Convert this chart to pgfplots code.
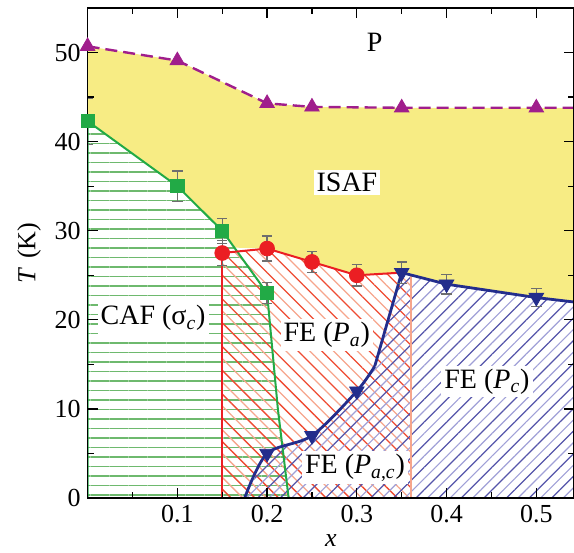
\documentclass[border=0pt]{standalone}
\usepackage{fontspec}
\setmainfont{Liberation Serif}
\usepackage{pgfplots}
\pgfplotsset{compat=1.18}
\usetikzlibrary{patterns,patterns.meta}

\definecolor{isaf}{RGB}{247,236,132}
\definecolor{ppurple}{RGB}{160,30,140}
\definecolor{cgreen}{RGB}{34,170,70}
\definecolor{hgreen}{RGB}{110,185,110}
\definecolor{cred}{RGB}{235,30,35}
\definecolor{hred}{RGB}{238,75,50}
\definecolor{hsalmon}{RGB}{246,165,140}
\definecolor{cblue}{RGB}{35,45,140}
\definecolor{hblue}{RGB}{85,85,170}
\definecolor{hlblue}{RGB}{160,160,215}
\definecolor{ebar}{RGB}{110,110,110}

\begin{document}
\begin{tikzpicture}
\begin{axis}[
  name=ax,
  scale only axis, width=243.2pt, height=245pt,
  xmin=0, xmax=0.542, ymin=0, ymax=55,
  xtick={0.1,0.2,0.3,0.4,0.5},
  minor xtick={0.05,0.15,0.25,0.35,0.45},
  ytick={0,10,20,30,40,50},
  minor ytick={5,15,25,35,45},
  tick align=inside, major tick length=5pt, minor tick length=3pt,
  tick style={black, line width=0.6pt},
  axis line style={line width=0.8pt},
  ticklabel style={font=\rmfamily\fontsize{13}{15}\selectfont},
  /pgf/number format/assume math mode=true,
  xticklabel style={/pgf/number format/fixed, /pgf/number format/precision=1},
  xlabel={\textit{x}},
  ylabel={\textit{T}\,\,(K)},
  label style={font=\rmfamily\fontsize{13}{15}\selectfont},
  xlabel style={at={(axis description cs:0.5,-0.086)}, anchor=center},
  ylabel style={at={(axis description cs:-0.12,0.5)}, anchor=center},
  axis on top,
]
% ISAF region
\addplot[fill=isaf, draw=none, forget plot] coordinates {
  (0,50.7) (0.1,49.1) (0.2,44.3) (0.25,43.9) (0.35,43.8) (0.5,43.8) (0.542,43.8)
  (0.542,22) (0.5,22.5) (0.4,24) (0.35,25.3) (0.3,25) (0.25,26.5) (0.2,28)
  (0.165,28.1) (0.15,30) (0.1,35) (0,42.3)} -- cycle;
% CAF region
\addplot[pattern={Lines[angle=0, distance=4.75pt, line width=0.55pt]}, pattern color=hgreen, draw=none, forget plot] coordinates {
  (0,0) (0,42.3) (0.1,35) (0.15,30) (0.2,23) (0.212,10) (0.224,0)} -- cycle;
% FE (Pa) region
\addplot[pattern={Lines[angle=-45, distance=8.4pt, line width=0.65pt]}, pattern color=hred, draw=none, forget plot] coordinates {
  (0.15,0) (0.15,27.5) (0.2,28) (0.25,26.5) (0.3,25) (0.35,25.3) (0.36,25.1) (0.36,0)} -- cycle;
\addplot[pattern={Lines[angle=-45, distance=8.4pt, line width=0.65pt, yshift=5.9pt]}, pattern color=hsalmon, draw=none, forget plot] coordinates {
  (0.15,0) (0.15,27.5) (0.2,28) (0.25,26.5) (0.3,25) (0.35,25.3) (0.36,25.1) (0.36,0)} -- cycle;
% FE (Pc) region
\addplot[pattern={Lines[angle=45, distance=8pt, line width=0.6pt]}, pattern color=hblue, draw=none, forget plot] coordinates {
  (0.175,0) (0.2,5) (0.25,7) (0.3,12) (0.32,14.8) (0.35,25.3) (0.4,24) (0.5,22.5) (0.542,22) (0.542,0)} -- cycle;
\addplot[pattern={Lines[angle=45, distance=8pt, line width=0.6pt, yshift=5.6pt]}, pattern color=hlblue, draw=none, forget plot] coordinates {
  (0.175,0) (0.2,5) (0.25,7) (0.3,12) (0.32,14.8) (0.35,25.3) (0.4,24) (0.5,22.5) (0.542,22) (0.542,0)} -- cycle;

% boundaries
\addplot[cred, line width=0.8pt] coordinates {(0.15,0) (0.15,27.5)};
\addplot[hsalmon, line width=1pt] coordinates {(0.36,0) (0.36,25.1)};
\addplot[cgreen, line width=1pt] coordinates {
  (0,0) (0,42.3) (0.1,35) (0.15,30) (0.2,23) (0.212,10) (0.224,0)};
\addplot[cred, line width=1pt] coordinates {
  (0.15,27.5) (0.2,28) (0.25,26.5) (0.3,25) (0.35,25.3)};
\addplot[cblue, line width=1.4pt, smooth, tension=0.5] coordinates {
  (0.175,0) (0.2,5) (0.25,7) (0.3,12) (0.32,14.8)};
\addplot[cblue, line width=1.4pt] coordinates {
  (0.32,14.8) (0.35,25.3) (0.4,24) (0.5,22.5) (0.542,22)};
\addplot[ppurple, line width=1.2pt, dash pattern=on 6pt off 3pt] coordinates {
  (0,50.7) (0.1,49.1) (0.2,44.3) (0.25,43.9) (0.35,43.8) (0.5,43.8) (0.542,43.8)};

% error bars
\addplot[draw=none, mark=none, forget plot,
  error bars/.cd, y dir=both, y explicit,
  error bar style={draw=ebar, line width=0.6pt},
  error mark options={draw=ebar, rotate=90, mark size=2.6pt, line width=0.7pt}]
  coordinates {
  (0,42.3) +- (0,2.6)
  (0.1,35) +- (0,1.7)
  (0.15,30) +- (0,1.4)
  (0.2,23) +- (0,1.2)
  (0.15,27.5) +- (0,1.4)
  (0.2,28) +- (0,1.4)
  (0.25,26.5) +- (0,1.2)
  (0.3,25) +- (0,1.2)
  (0.35,25.3) +- (0,1.2)
  (0.4,24) +- (0,1.1)
  (0.5,22.5) +- (0,1.0)
};

% markers
\addplot[only marks, mark=square*, mark size=3.3pt, cgreen] coordinates {
  (0,42.3) (0.1,35) (0.15,30) (0.2,23)};
\addplot[only marks, mark=*, mark size=3.7pt, cred] coordinates {
  (0.15,27.5) (0.2,28) (0.25,26.5) (0.3,25)};
\addplot[only marks, mark=triangle*, mark size=4.2pt, cblue,
  every mark/.append style={rotate=180}] coordinates {
  (0.2,5) (0.25,7) (0.3,12) (0.35,25.3) (0.4,24) (0.5,22.5)};
\addplot[only marks, mark=triangle*, mark size=4.2pt, ppurple] coordinates {
  (0,50.7) (0.1,49.1) (0.2,44.3) (0.25,43.9) (0.35,43.8) (0.5,43.8)};

% labels
\begin{scope}[every node/.style={font=\rmfamily\fontsize{14}{16}\selectfont, inner sep=1.5pt}]
\node at (axis cs:0.32,51.1) {P};
\node[fill=white] at (axis cs:0.289,35.4) {ISAF};
\node[fill=white] at (axis cs:0.073,20.2) {CAF (σ\textsubscript{\textit{c}})};
\node[fill=white] at (axis cs:0.2665,18.3) {FE (\textit{P}\textsubscript{\textit{a}})};
\node[fill=white] at (axis cs:0.445,13.1) {FE (\textit{P}\textsubscript{\textit{c}})};
\node[fill=white] at (axis cs:0.298,3.4) {FE (\textit{P}\textsubscript{\textit{a},\textit{c}})};
\end{scope}
\end{axis}
\pgfresetboundingbox
\path ([shift={(-43.8pt,-27pt)}]ax.south west) rectangle ([shift={(0pt,4pt)}]ax.north east);
\end{tikzpicture}
\end{document}
